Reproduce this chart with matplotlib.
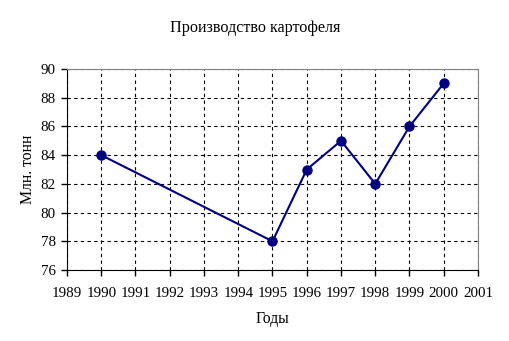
import matplotlib
matplotlib.use("Agg")
import matplotlib.pyplot as plt

years = [1990, 1995, 1996, 1997, 1998, 1999, 2000]
values = [84, 78, 83, 85, 82, 86, 89]
xticks = list(range(1989, 2002))
yticks = list(range(76, 91, 2))

plt.rcParams['font.family'] = ['Liberation Serif', 'DejaVu Serif']
fs = 10.8
fig = plt.figure(figsize=(5.09, 3.41), dpi=100)
ax = fig.add_axes([67/509, 1-270/341, (478-67)/509, (270-69)/341])
ax.plot(years, values, color='#000080', lw=1.5, marker='o', ms=6.5, zorder=3)
ax.set_xlim(1989, 2001)
ax.set_ylim(76, 90)
ax.set_xticks(xticks)
ax.set_yticks(yticks)
ax.tick_params(labelsize=fs, direction='out', length=4, width=1, colors='black')
ax.tick_params(axis='x', pad=8)
ax.tick_params(axis='y', pad=4)
ax.grid(True, color='black', linestyle=(0, (3, 3)), linewidth=0.8)
for s in ['top', 'right']:
    ax.spines[s].set_color('#808080')
for s in ['left', 'bottom']:
    ax.spines[s].set_color('black')
ax.set_xlabel('Годы', fontsize=fs+0.5, labelpad=8)
ax.set_ylabel('Млн. тонн', fontsize=fs+0.5, labelpad=3)
fig.text(255/509, 1-28/341, 'Производство картофеля', ha='center', va='center', fontsize=fs+0.8)
fig.savefig('out.png', dpi=100)
